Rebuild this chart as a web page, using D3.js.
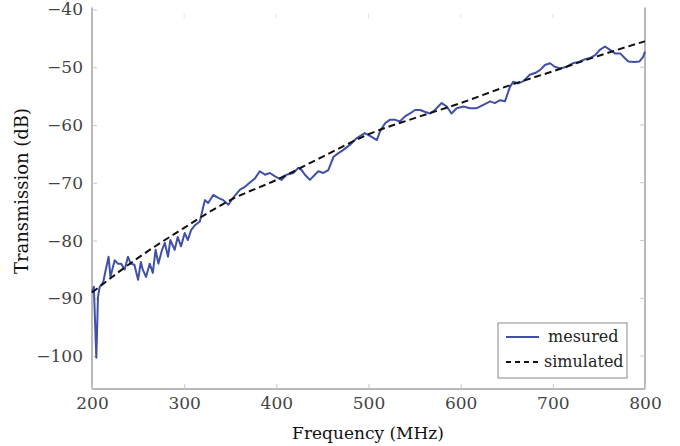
<!DOCTYPE html>
<html>
<head>
<meta charset="utf-8">
<script src="https://cdn.jsdelivr.net/npm/d3@7"></script>
<style>
  body { margin: 0; background: #fff; }
  text { font-family: "DejaVu Serif", "Liberation Serif", serif; }
</style>
</head>
<body>
<div id="chart"></div>
<script>
let measFreq = [200, 202, 204.7, 206.5, 208.4, 212, 215, 218, 220, 224.6, 228, 231.5, 235.5, 239, 242, 246, 250, 253, 255,
  258.6, 262.6, 266, 269, 272, 276, 279, 282.5, 285, 289.7, 293, 296.6, 300.6, 304, 307.5, 312, 317, 320.8, 322.6, 326,
  331.6, 337, 342.5, 348, 353, 360.6, 366, 371, 377, 382, 387.7, 393, 398.6, 405.8, 411, 418.4, 424, 427.5, 431, 436.5,
  440, 445.5, 451, 456.4, 462, 467, 472.7, 480, 487, 496, 503, 509, 512.5, 518, 523, 529, 534, 539.6, 545, 550.5, 556,
  561, 566.7, 572, 579.4, 585, 590, 595.7, 603, 610, 617, 624.6, 632, 637, 642.7, 648, 653.5, 657, 662.5, 668, 675,
  680.7, 686, 691.5, 697, 702, 708, 715, 722, 729.5, 735, 740, 746, 751, 756.6, 762, 767.5, 773, 778, 782, 789, 794,
  798, 800];
let measDb = [-89, -88, -100.3, -89.7, -88, -87.3, -85, -82.8, -86.3, -83.4, -84, -84, -85, -82.8, -84, -84.2, -86.8, -83.7,
  -85, -86.3, -84, -85.6, -81.6, -84, -81.6, -80.4, -82.8, -79.9, -81.6, -79.4, -81, -78.7, -79.9, -78.2, -77.3, -76.7,
  -74.1, -73, -73.5, -72.1, -72.6, -73, -73.8, -72.6, -71.2, -70.7, -70, -69.2, -68, -68.6, -68.3, -68.9, -69.5, -68.6,
  -68.3, -67.4, -67.8, -68.6, -69.5, -68.9, -68, -68.3, -67.8, -65.5, -64.9, -64.3, -63.4, -62.3, -61.4, -62, -62.6,
  -61.1, -59.7, -59.1, -59.1, -59.4, -58.5, -58, -57.4, -57.4, -57.7, -58, -57.4, -56.2, -56.8, -58, -57.1, -56.8,
  -57.1, -57.1, -56.5, -55.9, -56.2, -55.7, -55.9, -53.4, -52.5, -52.8, -52.4, -51.3, -51, -50.5, -49.6, -49.3, -49.9,
  -50.2, -49.9, -49.3, -49, -48.6, -48.4, -47.9, -47, -46.4, -47, -47.6, -47.6, -48.4, -49, -49.1, -49, -48.2, -47.3];

// simulated curve
let simFreq = [200, 250, 300, 350, 400, 450, 500, 550, 600, 650, 700, 750, 800];
let simDb = [-89, -83, -77.8, -73, -69.5, -65.5, -61.6, -58.8, -56.2, -53.3, -50.7, -48, -45.5];

let xTicks = [200, 300, 400, 500, 600, 700, 800];
let yTicks = [-40, -50, -60, -70, -80, -90, -100];
let legendNames = ['mesured', 'simulated'];

var W = 680, H = 446;
var pLeft = 92, pRight = 645, pTop = 9.5, pBottom = 389;

var svg = d3.select('#chart').append('svg')
  .attr('width', W)
  .attr('height', H);

var x = d3.scaleLinear().domain([200, 800]).range([pLeft, pRight]);
var y = d3.scaleLinear().domain([-105.7, -40]).range([pBottom, pTop]);

var axisColor = '#a0a0a0';

// frame lines (no top line, it is almost invisible in the scan)
svg.append('line').attr('x1', pLeft).attr('x2', pLeft).attr('y1', pTop - 2).attr('y2', pBottom)
  .attr('stroke', axisColor).attr('stroke-width', 1.5);
svg.append('line').attr('x1', pRight).attr('x2', pRight).attr('y1', pTop - 2).attr('y2', pBottom)
  .attr('stroke', axisColor).attr('stroke-width', 1.5);
svg.append('line').attr('x1', pLeft).attr('x2', pRight).attr('y1', pBottom).attr('y2', pBottom)
  .attr('stroke', axisColor).attr('stroke-width', 1.5);

// x axis, ticks pointing inwards
var xAxis = svg.append('g')
  .attr('transform', `translate(0,${pBottom})`)
  .call(d3.axisBottom(x).tickValues(xTicks).tickSize(-5).tickPadding(8).tickFormat(d3.format('d')));
xAxis.select('.domain').remove();
xAxis.selectAll('line').attr('stroke', '#c8c8c8');
xAxis.selectAll('text').attr('font-size', 17).attr('fill', '#444')
  .style('font-family', '"DejaVu Serif", serif');

// faint ticks at the top too
svg.append('g').selectAll('line').data(xTicks.slice(1, -1)).enter().append('line')
  .attr('x1', (d) => x(d)).attr('x2', (d) => x(d))
  .attr('y1', pTop + 4).attr('y2', pTop + 9)
  .attr('stroke', '#e6e6e6');

var yAxis = svg.append('g')
  .attr('transform', `translate(${pLeft},0)`)
  .call(d3.axisLeft(y).tickValues(yTicks).tickSize(-5).tickPadding(9)
    .tickFormat((d) => String(d).replace('-', '\u2212')));
yAxis.select('.domain').remove();
yAxis.selectAll('line').attr('stroke', '#c8c8c8');
yAxis.selectAll('text').attr('font-size', 17).attr('fill', '#444')
  .style('font-family', '"DejaVu Serif", serif');

// right side ticks
svg.append('g').selectAll('line').data(yTicks.slice(1)).enter().append('line')
  .attr('x1', pRight - 5).attr('x2', pRight)
  .attr('y1', (d) => y(d)).attr('y2', (d) => y(d))
  .attr('stroke', '#c8c8c8');

// axis titles
svg.append('text')
  .attr('x', 368)
  .attr('y', 439)
  .attr('text-anchor', 'middle')
  .attr('font-size', 17)
  .attr('fill', '#111')
  .text('Frequency (MHz)');

svg.append('text')
  .attr('transform', 'translate(28,191)rotate(-90)')
  .attr('text-anchor', 'middle')
  .attr('font-size', 18)
  .attr('fill', '#111')
  .text('Transmission (dB)');

// curves
var meas = measFreq.map((f, i) => [f, measDb[i]]);
var sim = simFreq.map((f, i) => [f, simDb[i]]);

var line = d3.line()
  .x((d) => x(d[0]))
  .y((d) => y(d[1]));

svg.append('path')
  .datum(meas)
  .attr('fill', 'none')
  .attr('stroke', '#4050a8')
  .attr('stroke-width', 2)
  .attr('stroke-linejoin', 'round')
  .attr('d', line);

svg.append('path')
  .datum(sim)
  .attr('fill', 'none')
  .attr('stroke', '#111')
  .attr('stroke-width', 2)
  .attr('stroke-dasharray', '7,4')
  .attr('d', line.curve(d3.curveMonotoneX));

// legend
var lg = svg.append('g').attr('transform', 'translate(498,323)');
lg.append('rect')
  .attr('width', 129).attr('height', 55)
  .attr('fill', '#fff')
  .attr('stroke', '#888');

var rows = lg.selectAll('.row')
  .data(legendNames)
  .enter()
  .append('g')
  .attr('transform', (d, i) => `translate(0,${14 + i * 25})`);

rows.append('line')
  .attr('x1', 8).attr('x2', 41)
  .attr('y1', 0).attr('y2', 0)
  .attr('stroke', (d, i) => i === 0 ? '#4050a8' : '#111')
  .attr('stroke-width', 2)
  .attr('stroke-dasharray', (d, i) => i === 0 ? null : '5,4');

rows.append('text')
  .attr('x', (d, i) => i === 0 ? 50 : 46)
  .attr('y', 5)
  .attr('font-size', 16)
  .attr('fill', '#222')
  .text((d) => d);
</script>
</body>
</html>
